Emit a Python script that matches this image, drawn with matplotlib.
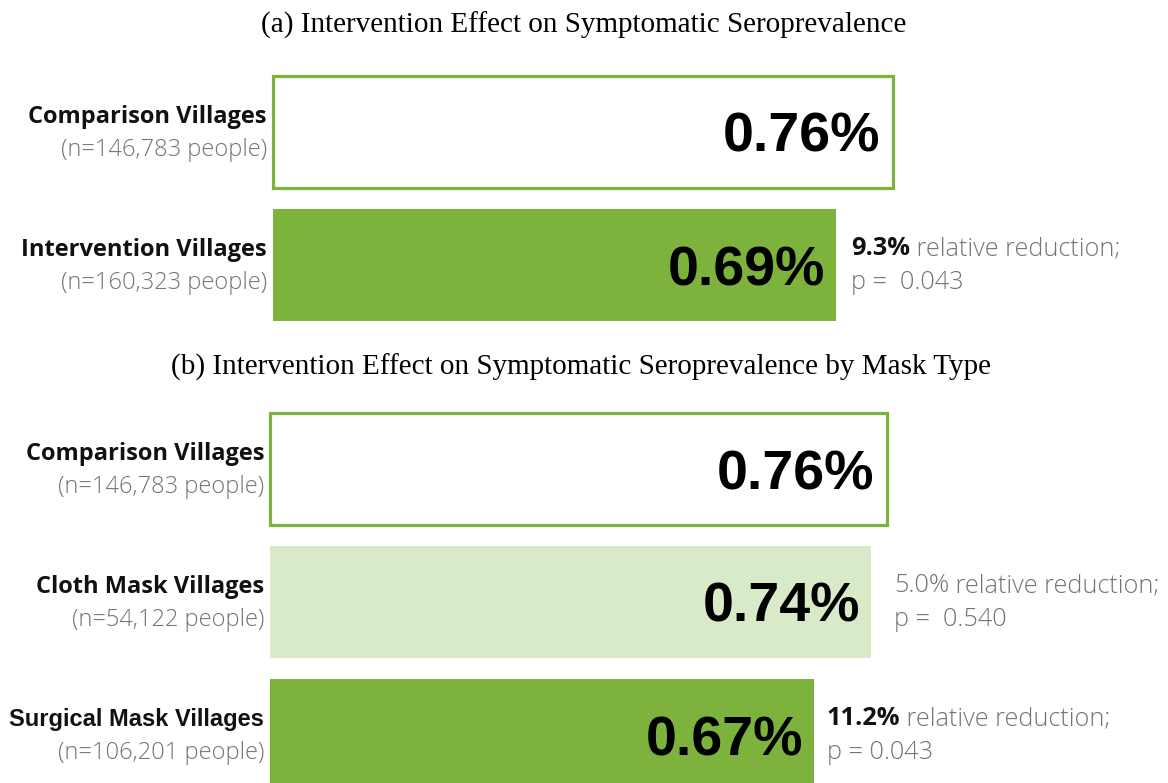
import matplotlib
matplotlib.use('Agg')
from matplotlib import pyplot as plt

# panel (a) data
a_groups = ['Comparison Villages', 'Intervention Villages']
a_counts = ['(n=146,783 people)', '(n=160,323 people)']
a_rates = [0.76, 0.69]
a_reduction = [None, '9.3%']
a_pvalue = [None, 'p =  0.043']
a_signif = [False, True]

# panel (b) data
b_groups = ['Comparison Villages', 'Cloth Mask Villages', 'Surgical Mask Villages']
b_counts = ['(n=146,783 people)', '(n=54,122 people)', '(n=106,201 people)']
b_rates = [0.76, 0.74, 0.67]
b_reduction = [None, '5.0%', '11.2%']
b_pvalue = [None, 'p =  0.540', 'p = 0.043']
b_signif = [False, False, True]

GREEN = '#7db33c'
LIGHT = '#d9eac8'
GREY = '#747474'
LABEL_FONT = 'Open Sans'
VALUE_FONT = 'Liberation Sans'

fig = plt.figure(figsize=(11.68, 7.83), dpi=100)
W, H = 1168.0, 783.0


def make_axes(top, bottom, x0, ppu, first_center, spacing):
    # axes spanning full width, rows top..bottom (pixels)
    ax = fig.add_axes([0, 1 - bottom / H, 1, (bottom - top) / H])
    ax.set_xlim(-x0 / ppu, (W - x0) / ppu)
    ax.set_ylim((bottom - first_center) / spacing, (top - first_center) / spacing)
    ax.axis('off')
    return ax


def panel(ax, groups, counts, rates, reds, pvals, signif, colors, label_fonts, ann_off):
    renderer = fig.canvas.get_renderer()
    for i, r in enumerate(rates):
        if colors[i] == 'white':
            ax.barh(i, r, height=0.835, left=0, color='white', edgecolor=GREEN, linewidth=2.3)
            pad = -13
        else:
            ax.barh(i, r, height=0.835, left=0, color=colors[i], edgecolor='none')
            pad = -11

        ax.annotate(f'{r:.2f}%', (r, i), xytext=(pad, -20), textcoords='offset pixels',
                    ha='right', va='baseline', fontsize=40, fontweight='bold',
                    family=VALUE_FONT, color='black')

        ax.annotate(groups[i], (0, i), xytext=(-6, 9), textcoords='offset pixels',
                    ha='right', va='baseline', fontsize=17, fontweight='bold',
                    family=label_fonts[i], color='#111111')
        ax.annotate(counts[i], (0, i), xytext=(-6, -24), textcoords='offset pixels',
                    ha='right', va='baseline', fontsize=17, fontweight='light',
                    family=LABEL_FONT, color=GREY)

        if reds[i] is not None:
            off = ann_off[i]
            t = ax.annotate(reds[i], (r, i), xytext=(off, 10), textcoords='offset pixels',
                            ha='left', va='baseline', fontsize=18.2,
                            fontweight='bold' if signif[i] else 'light',
                            family=LABEL_FONT, color='#111111' if signif[i] else GREY)
            w = t.get_window_extent(renderer).width
            ax.annotate(' relative reduction;', (r, i), xytext=(off + w, 10),
                        textcoords='offset pixels', ha='left', va='baseline',
                        fontsize=18.2, fontweight='light', family=LABEL_FONT, color=GREY)
            ax.annotate(pvals[i], (r, i), xytext=(off, -24), textcoords='offset pixels',
                        ha='left', va='baseline', fontsize=18.2, fontweight='light',
                        family=LABEL_FONT, color=GREY)


ax_a = make_axes(60, 340, 273, 620 / 0.76, 132, 133)
panel(ax_a, a_groups, a_counts, a_rates, a_reduction, a_pvalue, a_signif,
      ['white', GREEN], [LABEL_FONT, LABEL_FONT], [0, 15])

ax_b = make_axes(395, 783, 270, 617 / 0.76, 469, 133)
panel(ax_b, b_groups, b_counts, b_rates, b_reduction, b_pvalue, b_signif,
      ['white', LIGHT, GREEN], [LABEL_FONT, LABEL_FONT, VALUE_FONT], [0, 23, 13])

fig.text(584 / W, 1 - 25 / H, '(a) Intervention Effect on Symptomatic Seroprevalence',
         ha='center', va='center', fontsize=21, family='Liberation Serif')
fig.text(581 / W, 1 - 367 / H, '(b) Intervention Effect on Symptomatic Seroprevalence by Mask Type',
         ha='center', va='center', fontsize=21, family='Liberation Serif')

fig.savefig('out.png', dpi=100)
